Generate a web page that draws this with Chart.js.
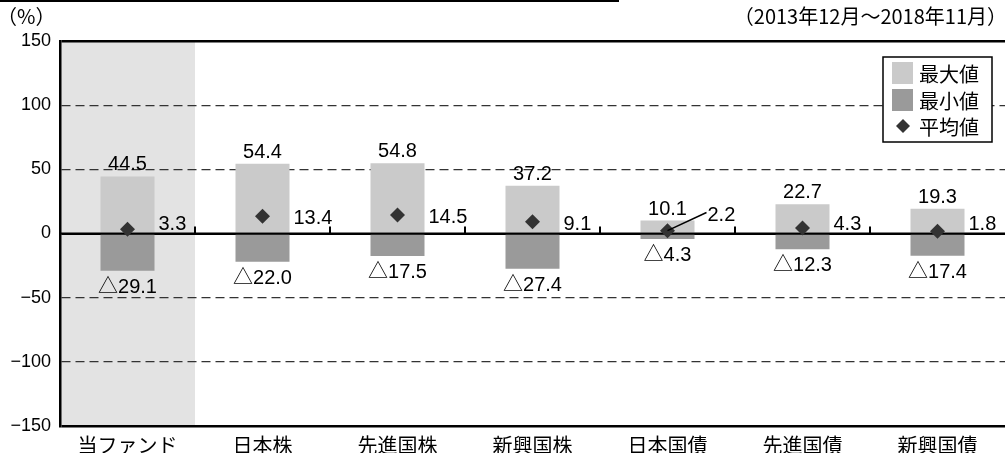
<!DOCTYPE html>
<html>
<head>
<meta charset="utf-8">
<script src="https://cdn.jsdelivr.net/npm/chart.js@4.4.1/dist/chart.umd.min.js"></script>
<style>
  html, body { margin: 0; padding: 0; background: #fff; }
  #wrap { width: 1005px; height: 453px; position: relative; }
</style>
</head>
<body>
<div id="wrap"><canvas id="rangeChart" width="1005" height="453"></canvas></div>
<script>
const categories = ['当ファンド', '日本株', '先進国株', '新興国株', '日本国債', '先進国債', '新興国債'];
const maxValues = [44.5, 54.4, 54.8, 37.2, 10.1, 22.7, 19.3];
const minValues = [-29.1, -22.0, -17.5, -27.4, -4.3, -12.3, -17.4];
const avgValues = [3.3, 13.4, 14.5, 9.1, 2.2, 4.3, 1.8];
const seriesNames = ['最大値', '最小値', '平均値'];
const periodText = '（2013年12月～2018年11月）';
const unitText = '（%）';

const numFont = '20px "Liberation Sans", "Noto Sans CJK JP", sans-serif';
const jpFont = '"Noto Sans CJK JP", sans-serif';

// boundary between category i and i+1
function boundaryX(chart, i) {
  const x = chart.scales.x;
  return (x.getPixelForValue(i) + x.getPixelForValue(i + 1)) / 2;
}

const decorPlugin = {
  id: 'decor',
  beforeDraw(chart) {
    const { ctx, chartArea } = chart;
    ctx.save();
    // shaded column for the fund
    ctx.fillStyle = '#e3e3e3';
    ctx.fillRect(chartArea.left, chartArea.top, boundaryX(chart, 0) - chartArea.left, chartArea.bottom - chartArea.top);
    // rule at the very top
    ctx.fillStyle = '#000';
    ctx.fillRect(0, 0, 619, 2);
    // texts on top
    ctx.font = '20px ' + jpFont;
    ctx.textBaseline = 'middle';
    ctx.textAlign = 'left';
    ctx.fillText(unitText, -3, 16);
    ctx.textAlign = 'right';
    ctx.fillText(periodText, 1007, 16);
    ctx.restore();
  },
  afterDatasetDraw(chart, args) {
    if (args.index !== 1) return;
    const { ctx, chartArea } = chart;
    const zeroY = chart.scales.y.getPixelForValue(0);
    ctx.save();
    ctx.strokeStyle = '#000';
    ctx.lineWidth = 2;
    ctx.beginPath();
    ctx.moveTo(chartArea.left, zeroY);
    ctx.lineTo(chartArea.right, zeroY);
    for (let i = 0; i < categories.length - 1; i++) {
      const bx = Math.round(boundaryX(chart, i));
      ctx.moveTo(bx, zeroY);
      ctx.lineTo(bx, zeroY - 7);
    }
    ctx.stroke();
    ctx.restore();
  },
  afterDraw(chart) {
    const { ctx } = chart;
    const zeroY = chart.scales.y.getPixelForValue(0);
    const maxMeta = chart.getDatasetMeta(0);
    const minMeta = chart.getDatasetMeta(1);
    const avgMeta = chart.getDatasetMeta(2);
    ctx.save();
    ctx.fillStyle = '#000';
    ctx.font = numFont;
    ctx.textBaseline = 'alphabetic';
    categories.forEach((c, i) => {
      const top = maxMeta.data[i];
      const bot = minMeta.data[i];
      ctx.textAlign = 'center';
      ctx.fillText(maxValues[i].toFixed(1), top.x, top.y - 6);
      ctx.fillText('△' + Math.abs(minValues[i]).toFixed(1), bot.x, bot.y + 22);
      const pt = avgMeta.data[i];
      const right = top.x + top.width / 2;
      ctx.textAlign = 'left';
      if (i === 4) {
        // leader line for the small one
        ctx.strokeStyle = '#000';
        ctx.lineWidth = 1.5;
        ctx.beginPath();
        ctx.moveTo(pt.x, pt.y);
        ctx.lineTo(right + 12, zeroY - 21);
        ctx.stroke();
        ctx.fillText(avgValues[i].toFixed(1), right + 13, zeroY - 13);
      } else {
        ctx.fillText(avgValues[i].toFixed(1), right + 4, Math.min(zeroY - 4, pt.y + 8));
      }
    });

    // legend box
    const lx = 883, ly = 57, lw = 109, lh = 85;
    ctx.fillStyle = '#fff';
    ctx.fillRect(lx, ly, lw, lh);
    ctx.strokeStyle = '#000';
    ctx.lineWidth = 1.5;
    ctx.strokeRect(lx, ly, lw, lh);
    const rows = [73, 100, 126];
    chart.data.datasets.forEach((ds, k) => {
      const cy = rows[k];
      ctx.fillStyle = ds.backgroundColor;
      if (k < 2) {
        ctx.fillRect(lx + 9, cy - 11, 21, 22);
      } else {
        ctx.beginPath();
        ctx.moveTo(lx + 20, cy - 7);
        ctx.lineTo(lx + 27, cy);
        ctx.lineTo(lx + 20, cy + 7);
        ctx.lineTo(lx + 13, cy);
        ctx.closePath();
        ctx.fill();
      }
      ctx.fillStyle = '#000';
      ctx.font = '20px ' + jpFont;
      ctx.textAlign = 'left';
      ctx.textBaseline = 'middle';
      ctx.fillText(ds.label, lx + 36, cy + 1);
    });
    ctx.restore();
  }
};

const ctx = document.getElementById('rangeChart').getContext('2d');

new Chart(ctx, {
  type: 'bar',
  data: {
    labels: categories,
    datasets: [
      { label: seriesNames[0], data: maxValues, backgroundColor: '#cacaca', order: 2 },
      { label: seriesNames[1], data: minValues, backgroundColor: '#9a9a9a', order: 1 },
      {
        label: seriesNames[2], data: avgValues, type: 'line', showLine: false,
        pointStyle: 'rectRot', pointRadius: 7.5, pointHoverRadius: 7.5,
        backgroundColor: '#333333', borderColor: '#333333', borderWidth: 0, order: 0
      }
    ]
  },
  options: {
    responsive: false,
    devicePixelRatio: 1,
    animation: false,
    barPercentage: 0.4,
    categoryPercentage: 1.0,
    layout: { autoPadding: false, padding: { top: 41, left: 0, right: 0, bottom: 0 } },
    plugins: { legend: { display: false }, tooltip: { enabled: false } },
    scales: {
      x: {
        stacked: true,
        grid: { display: false },
        border: { display: false },
        ticks: { color: '#000', font: { family: 'Noto Sans CJK JP', size: 20 }, padding: -1, maxRotation: 0 },
        afterFit(scale) {
          scale.height = 27;
          scale.paddingLeft = 0;
          scale.paddingRight = 0;
        }
      },
      y: {
        stacked: true,
        min: -150,
        max: 150,
        ticks: {
          stepSize: 50, color: '#000', font: { family: 'Liberation Sans', size: 18 }, padding: 9,
          callback: v => String(v).replace('-', '−')
        },
        grid: {
          drawTicks: false,
          color: c => (Math.abs(c.tick.value) === 150 || c.tick.value === 0) ? '#000' : '#333',
          lineWidth: c => (Math.abs(c.tick.value) === 150) ? 2.5 : (c.tick.value === 0 ? 2 : 1.3)
        },
        border: {
          color: '#000',
          width: 2.5,
          dash: c => (c.tick && Math.abs(c.tick.value) !== 150 && c.tick.value !== 0) ? [9, 5] : []
        },
        afterFit(scale) { scale.width = 60; }
      }
    }
  },
  plugins: [decorPlugin]
});
</script>
</body>
</html>
